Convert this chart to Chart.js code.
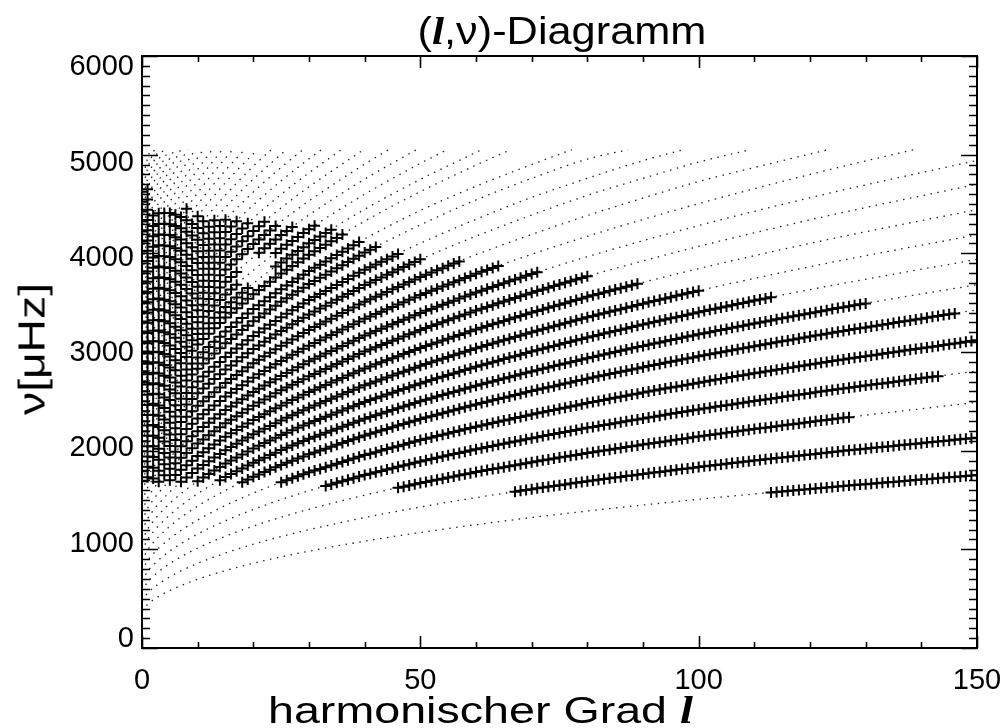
<!DOCTYPE html>
<html>
<head>
<meta charset="utf-8">
<script src="https://cdn.jsdelivr.net/npm/chart.js@4.4.0/dist/chart.umd.min.js"></script>
<style>
  html, body { margin: 0; padding: 0; background: #fff; }
  #wrap { position: relative; width: 1007px; height: 728px; overflow: hidden; }
  #c { position: absolute; left: 0; top: 0; }
  .t { position: absolute; font-family: "Liberation Sans", Arial, sans-serif; color: #000; white-space: nowrap; line-height: 1; }
  .l { font-family: "Liberation Serif", "Times New Roman", serif; font-style: italic; font-weight: bold; }
  #title { font-size: 38px; left: 0; width: 1124px; text-align: center; top: 12px; transform: scaleX(1.14); transform-origin: 562px 50%; }
  #xt { font-size: 37px; left: 268px; top: 692px; transform: scaleX(1.26); transform-origin: 0 50%; }
  #yt { font-size: 37px; left: 32px; top: 349px; transform: translate(-50%, -50%) rotate(-90deg) scaleX(1.25); }
</style>
</head>
<body>
<div id="wrap">
  <canvas id="c" width="1007" height="728"></canvas>
  <div class="t" id="title">(<span class="l">l</span>,ν)-Diagramm</div>
  <div class="t" id="xt">harmonischer Grad <span class="l">l</span></div>
  <div class="t" id="yt">ν[μHz]</div>
</div>
<script>
// (l,nu) diagram: dotted model ridges + observed modes (plus markers)
var X_MIN = 0, X_MAX = 150, X_MAJOR = 50, X_MINOR = 10;
var Y_MIN = 0, Y_MAX = 6000, Y_MAJOR = 1000, Y_MINOR = 100;
var Y_LABELS = [0, 1000, 2000, 3000, 4000, 5000, 6000];
// the printed y labels sit on a slightly squeezed scale (0 at 639px, 6000 at 67px)
var Y_LABEL_MIN = -94.5, Y_LABEL_MAX = 6120.7;

// model ridges as [l, nu] points, lowest ridge first
var RIDGES = [
  [[0,375],[1,443],[2,487],[3,523],[5,583],[7,633],[10,697],[15,785],[20,859],[25,924],[30,981],[40,1083],[50,1171],[60,1250],[70,1322],[80,1388],[90,1449],[100,1507],[110,1561],[125,1637],[150,1753]],
  [[0,476],[1,556],[2,608],[3,650],[5,722],[7,781],[10,858],[15,963],[20,1052],[25,1130],[30,1199],[40,1322],[50,1429],[60,1524],[70,1610],[80,1690],[90,1764],[100,1834],[110,1900],[125,1992],[150,2132]],
  [[0,577],[1,667],[2,726],[3,774],[5,856],[7,924],[10,1012],[15,1133],[20,1236],[25,1326],[30,1406],[40,1549],[50,1672],[60,1783],[70,1883],[80,1976],[90,2062],[100,2143],[110,2219],[125,2326],[150,2490]],
  [[0,679],[1,776],[2,840],[3,893],[5,983],[7,1058],[10,1155],[15,1290],[20,1404],[25,1504],[30,1594],[40,1753],[50,1891],[60,2014],[70,2127],[80,2231],[90,2327],[100,2418],[110,2503],[125,2623],[150,2807]],
  [[0,780],[1,885],[2,954],[3,1012],[5,1109],[7,1191],[10,1297],[15,1445],[20,1570],[25,1681],[30,1780],[40,1955],[50,2107],[60,2243],[70,2367],[80,2482],[90,2589],[100,2689],[110,2784],[125,2917],[150,3119]],
  [[0,881],[1,993],[2,1067],[3,1129],[5,1234],[7,1323],[10,1438],[15,1598],[20,1735],[25,1855],[30,1963],[40,2154],[50,2320],[60,2469],[70,2604],[80,2730],[90,2846],[100,2956],[110,3059],[125,3205],[150,3427]],
  [[0,982],[1,1098],[2,1175],[3,1240],[5,1350],[7,1443],[10,1564],[15,1734],[20,1878],[25,2006],[30,2120],[40,2323],[50,2500],[60,2659],[70,2803],[80,2937],[90,3062],[100,3179],[110,3289],[125,3445],[150,3682]],
  [[0,1083],[1,1203],[2,1283],[3,1351],[5,1466],[7,1564],[10,1691],[15,1870],[20,2023],[25,2158],[30,2279],[40,2494],[50,2682],[60,2851],[70,3004],[80,3147],[90,3279],[100,3403],[110,3521],[125,3686],[150,3939]],
  [[0,1185],[1,1309],[2,1392],[3,1462],[5,1582],[7,1684],[10,1818],[15,2005],[20,2166],[25,2307],[30,2435],[40,2662],[50,2860],[60,3038],[70,3200],[80,3351],[90,3490],[100,3622],[110,3746],[125,3921],[150,4188]],
  [[0,1286],[1,1414],[2,1500],[3,1574],[5,1699],[7,1806],[10,1945],[15,2142],[20,2310],[25,2459],[30,2594],[40,2833],[50,3041],[60,3229],[70,3400],[80,3559],[90,3706],[100,3845],[110,3976],[125,4161],[150,4443]],
  [[0,1387],[1,1519],[2,1609],[3,1685],[5,1816],[7,1927],[10,2073],[15,2279],[20,2456],[25,2612],[30,2753],[40,3004],[50,3223],[60,3421],[70,3601],[80,3768],[90,3923],[100,4070],[110,4208],[125,4403],[150,4700]],
  [[0,1488],[1,1624],[2,1717],[3,1796],[5,1930],[7,2046],[10,2197],[15,2411],[20,2595],[25,2758],[30,2905],[40,3167],[50,3396],[60,3603],[70,3791],[80,3966],[90,4128],[100,4281],[110,4426],[125,4630],[150,4941]],
  [[0,1589],[1,1730],[2,1826],[3,1907],[5,2047],[7,2167],[10,2325],[15,2548],[20,2740],[25,2910],[30,3064],[40,3337],[50,3577],[60,3793],[70,3990],[80,4173],[90,4343],[100,4504],[110,4655],[125,4869],[138.6,5050]],
  [[0,1691],[1,1836],[2,1935],[3,2020],[5,2165],[7,2290],[10,2454],[15,2686],[20,2886],[25,3063],[30,3224],[40,3509],[50,3760],[60,3986],[70,4191],[80,4383],[90,4560],[100,4728],[110,4870],[123.2,5050]],
  [[0,1792],[1,1942],[2,2044],[3,2132],[5,2282],[7,2411],[10,2581],[15,2822],[20,3030],[25,3214],[30,3381],[40,3678],[50,3939],[60,4174],[70,4388],[80,4588],[90,4760],[100,4925],[109.2,5050]],
  [[0,1893],[1,2046],[2,2151],[3,2240],[5,2394],[7,2527],[10,2701],[15,2949],[20,3163],[25,3353],[30,3526],[40,3833],[50,4102],[60,4345],[70,4567],[80,4760],[90,4940],[97.2,5050]],
  [[0,1994],[1,2152],[2,2260],[3,2353],[5,2513],[7,2650],[10,2831],[15,3089],[20,3311],[25,3509],[30,3688],[40,4008],[50,4288],[60,4541],[70,4760],[80,4955],[87.3,5050]],
  [[0,2095],[1,2255],[2,2364],[3,2458],[5,2620],[7,2760],[10,2945],[15,3208],[20,3435],[25,3636],[30,3820],[40,4147],[50,4434],[60,4680],[70,4900],[77.2,5050]],
  [[0,2197],[1,2362],[2,2476],[3,2573],[5,2741],[7,2886],[10,3077],[15,3350],[20,3586],[25,3796],[30,3986],[40,4326],[50,4625],[60,4894],[66.2,5050]],
  [[0,2298],[1,2463],[2,2577],[3,2674],[5,2843],[7,2989],[10,3182],[15,3457],[20,3696],[25,3908],[30,4101],[40,4446],[50,4749],[61.0,5050]],
  [[0,2399],[1,2567],[2,2683],[3,2783],[5,2955],[7,3105],[10,3302],[15,3584],[20,3829],[25,4047],[30,4245],[40,4599],[50,4911],[54.8,5050]],
  [[0,2500],[1,2671],[2,2789],[3,2891],[5,3067],[7,3220],[10,3422],[15,3711],[20,3962],[25,4185],[30,4389],[40,4752],[49.3,5050]],
  [[0,2601],[1,2775],[2,2896],[3,3000],[5,3179],[7,3335],[10,3542],[15,3837],[20,4094],[25,4323],[30,4531],[40,4904],[44.3,5050]],
  [[0,2703],[1,2880],[2,3003],[3,3109],[5,3292],[7,3451],[10,3662],[15,3964],[20,4227],[25,4461],[30,4674],[39.8,5050]],
  [[0,2804],[1,2984],[2,3109],[3,3217],[5,3404],[7,3566],[10,3781],[15,4090],[20,4358],[25,4598],[30,4816],[35.8,5050]],
  [[0,2905],[1,3088],[2,3215],[3,3325],[5,3515],[7,3681],[10,3901],[15,4216],[20,4490],[25,4735],[30,4958],[32.2,5050]],
  [[0,3006],[1,3192],[2,3322],[3,3433],[5,3627],[7,3796],[10,4020],[15,4341],[20,4621],[25,4871],[28.9,5050]],
  [[0,3107],[1,3296],[2,3428],[3,3541],[5,3738],[7,3910],[10,4138],[15,4466],[20,4752],[25.9,5050]],
  [[0,3209],[1,3401],[2,3535],[3,3650],[5,3851],[7,4026],[10,4258],[15,4592],[20,4883],[23.2,5050]],
  [[0,3310],[1,3505],[2,3641],[3,3758],[5,3962],[7,4140],[10,4377],[15,4717],[20.7,5050]],
  [[0,3411],[1,3609],[2,3747],[3,3866],[5,4073],[7,4255],[10,4495],[15,4842],[18.4,5050]],
  [[0,3512],[1,3713],[2,3853],[3,3974],[5,4185],[7,4369],[10,4614],[15,4966],[16.3,5050]],
  [[0,3613],[1,3817],[2,3959],[3,4082],[5,4296],[7,4483],[10,4732],[14.4,5050]],
  [[0,3715],[1,3922],[2,4066],[3,4190],[5,4408],[7,4598],[10,4851],[12.6,5050]],
  [[0,3816],[1,4026],[2,4172],[3,4298],[5,4519],[7,4712],[10,4969],[11.0,5050]],
  [[0,3917],[1,4129],[2,4278],[3,4406],[5,4630],[7,4826],[9.55,5050]],
  [[0,4018],[1,4233],[2,4383],[3,4514],[5,4741],[7,4940],[8.2,5050]],
  [[0,4119],[1,4337],[2,4489],[3,4622],[5,4852],[6.96,5050]],
  [[0,4221],[1,4442],[2,4596],[3,4730],[5,4964],[5.81,5050]],
  [[0,4322],[1,4546],[2,4702],[3,4838],[4.78,5050]],
  [[0,4423],[1,4650],[2,4808],[3,4946],[3.83,5050]],
  [[0,4524],[1,4753],[2,4914],[2.98,5050]],
  [[0,4625],[1,4857],[2.21,5050]],
  [[0,4727],[1,4962],[1.51,5050]]
];

// observed modes: first l of each ridge's run, then nu at l, l+1, ... (null = no mode)
var MODE_START = [113, 67, 46, 33, 25, 18, 14, 10, 7, 5, 3, 2, 1, 0, 0, 0, 0, 0, 0, 0, 0, 0, 0, 0, 0, 0, 0, 0, 0, 0, 0, 0, 0, 0, 0, 0, 0, 0, 0, 0, 0, 0, 0];
var MODE_NU = [
  [1576,1581,1586,1591,1596,1602,1607,1612,1617,1622,1627,1632,1637,1642,1646,1651,1656,1660,1665,1669,1674,1679,1683,1688,1693,1697,1702,1707,1711,1716,1720,1725,1730,1734,1739,1744,1748,1753],
  [1584,1593,1601,1610,1618,1626,1634,1642,1650,1658,1666,1674,1682,1690,1697,1705,1712,1720,1727,1734,1742,1749,1757,1764,1771,1778,1785,1792,1799,1806,1813,1820,1827,1834,1841,1847,1854,1860,1867,1874,1880,1887,1893,1900,1906,1912,1918,1925,1931,1937,1943,1949,1955,1961,1967,1974,1980,1986,1992,1998,2003,2009,2014,2020,2026,2031,2037,2042,2048,2054,2059,2065,2070,2076,2082,2087,2093,2098,2104,2110,2115,2121,2126,2132],
  [1623,1635,1647,1660,1672,1683,1694,1705,1716,1728,1739,1750,1761,1772,1783,1793,1803,1813,1823,1833,1843,1853,1863,1873,1883,1892,1902,1911,1920,1930,1939,1948,1957,1967,1976,1985,1993,2002,2010,2019,2028,2036,2045,2053,2062,2070,2078,2086,2094,2103,2111,2119,2127,2135,2143,2151,2158,2166,2173,2181,2189,2196,2204,2211,2219,2226,2233,2240,2248,2255,2262,2269,2276,2283,2290,2297,2305,2312,2319,2326,2333,2339],
  [1642,1658,1674,1689,1705,1721,1737,1753,1767,1781,1794,1808,1822,1836,1850,1863,1877,1891,1903,1916,1928,1940,1953,1965,1977,1989,2002,2014,2025,2037,2048,2059,2071,2082,2093,2104,2116,2127,2137,2148,2158,2169,2179,2189,2200,2210,2221,2231,2241,2250,2260,2269,2279,2289,2298,2308,2317,2327,2336,2345,2354,2363,2373,2382,2391,2400,2409,2418,2427,2435,2444,2452,2461,2469,2478,2486,2495,2503,2511,2519,2527,2535,2543,2551,2559,2567,2575,2583,2591,2599,2607,2615,2623,2630,2638,2645,2652,2660,2667,2675,2682,2689,2697,2704,2711,2719,2726,2733,2741,2748,2755],
  [1681,1701,1720,1740,1760,1780,1798,1815,1833,1850,1868,1885,1903,1920,1938,1955,1970,1985,2001,2016,2031,2046,2061,2077,2092,2107,2121,2134,2148,2161,2175,2189,2202,2216,2229,2243,2255,2268,2280,2293,2305,2317,2330,2342,2355,2367,2379,2390,2402,2413,2425,2436,2448,2459,2471,2482,2493,2503,2514,2525,2536,2546,2557,2568,2578,2589,2599,2609,2619,2629,2639,2649,2659,2669,2679,2689,2699,2708,2718,2727,2737,2746,2756,2765,2775,2784,2793,2802,2811,2819,2828,2837,2846,2855,2864,2873,2882,2890,2899,2908,2917,2925,2933,2941,2949,2957,2965,2973,2982,2990,2998,3006,3014,3022,3030,3038,3046,3054,3062,3071,3079,3087,3095,3103,3111,3119],
  [1680,1708,1735,1759,1783,1807,1831,1855,1877,1898,1920,1941,1963,1982,2001,2020,2039,2059,2078,2097,2116,2135,2154,2171,2187,2204,2220,2237,2254,2270,2287,2303,2320,2335,2350,2365,2380,2395,2409,2424,2439,2454,2469,2483,2496,2510,2523,2537,2550,2564,2577,2591,2604,2617,2629,2642,2654,2667,2680,2692,2705,2717,2730,2742,2753,2765,2776,2788,2800,2811,2823,2834,2846,2857,2868,2879,2890,2901,2912,2923,2934,2945,2956,2966,2977,2987,2997,3008,3018,3028,3038,3049,3059,3069,3078,3088,3098,3108,3117,3127,3137,3147,3156,3166,3176,3186,3195,3205,3214,3223,3232,3241,3249,3258,3267,3276,3285,3294,3303,3312,3320,3329,3338,3347,3356,3365,3374,3383,3391],
  [1700,1734,1763,1792,1820,1849,1878,1904,1929,1955,1980,2006,2029,2052,2074,2097,2120,2140,2161,2181,2201,2222,2242,2262,2282,2303,2323,2341,2358,2376,2394,2412,2429,2447,2465,2482,2500,2516,2532,2548,2564,2580,2595,2611,2627,2643,2659,2673,2688,2702,2717,2731,2745,2760,2774,2789,2803,2816,2830,2843,2857,2870,2883,2897,2910,2924,2937,2950,2962,2975,2987,3000,3012,3025,3037,3050,3062,3074,3085,3097,3109,3121,3132,3144,3156,3167,3179,3190,3201,3212,3223,3234,3245,3256,3267,3278,3289,3299,3310,3320,3331,3341,3351,3362,3372,3383,3393,3403,3414,3424,3435,3445,3454,3464,3473,3483,3492],
  [1691,1727,1763,1798,1834,1870,1901,1931,1962,1992,2023,2050,2077,2104,2131,2158,2182,2206,2231,2255,2279,2301,2322,2344,2365,2387,2408,2430,2451,2473,2494,2513,2532,2550,2569,2588,2607,2626,2644,2663,2682,2699,2716,2733,2750,2767,2783,2800,2817,2834,2851,2866,2882,2897,2912,2928,2943,2958,2973,2989,3004,3018,3033,3047,3061,3076,3090,3104,3118,3133,3147,3160,3173,3187,3200,3213,3226,3239,3253,3266,3279,3291,3304,3316,3329,3341,3353,3366,3378,3391,3403,3415,3427,3438,3450,3462,3474,3486,3497,3509,3521,3532,3543,3554],
  [1684,1729,1773,1818,1855,1892,1930,1967,2005,2037,2069,2102,2134,2166,2194,2222,2251,2279,2307,2333,2358,2384,2409,2435,2458,2480,2503,2526,2549,2571,2594,2617,2639,2662,2682,2702,2721,2741,2761,2781,2801,2820,2840,2860,2878,2896,2913,2931,2949,2967,2985,3002,3020,3038,3054,3070,3087,3103,3119,3135,3151,3168,3184,3200,3215,3230,3245,3260,3276,3291,3306,3321,3336,3351,3365,3379,3393,3407,3421,3434,3448,3462,3476,3490,3503,3516,3530,3543,3556,3569,3582,3596,3609,3622],
  [1699,1753,1806,1852,1899,1945,1984,2024,2063,2103,2142,2176,2209,2243,2276,2310,2340,2370,2399,2429,2459,2486,2513,2540,2567,2594,2618,2642,2666,2690,2714,2737,2761,2785,2809,2833,2854,2875,2895,2916,2937,2958,2979,2999,3020,3041,3060,3079,3097,3116,3135,3154,3173,3191,3210,3229,3246,3263,3280,3297,3315,3332,3349,3366,3383,3400,3416,3432,3448,3464,3480,3495,3511,3527,3543,3559,3574,3588,3603,3618,3633,3647,3662,3677,3691],
  [1685,1751,1816,1872,1927,1976,2024,2073,2114,2155,2197,2238,2279,2314,2350,2385,2421,2456,2487,2518,2550,2581,2612,2640,2669,2697,2725,2753,2778,2803,2828,2853,2879,2904,2929,2954,2979,3004,3026,3048,3070,3092,3114,3135,3157,3179,3201,3223,3243,3263,3282,3302,3322,3342,3362,3381,3401,3421,3439,3457,3475,3493,3511,3529,3547,3565,3583,3601,3618,3634,3651,3668,3685,3701,3718,3735,3751,3768],
  [1717,1796,1863,1930,1988,2046,2096,2147,2197,2240,2283,2325,2368,2411,2448,2485,2521,2558,2595,2628,2660,2693,2725,2758,2787,2816,2846,2875,2905,2931,2957,2984,3010,3036,3062,3088,3115,3141,3167,3190,3213,3236,3259,3282,3304,3327,3350,3373,3396,3417,3437,3458,3479,3500,3520,3541,3562,3582,3603,3622,3641,3659,3678,3697,3716,3735,3753,3772,3791,3809],
  [1730,1826,1907,1977,2047,2107,2167,2220,2272,2325,2370,2414,2459,2503,2548,2586,2625,2663,2702,2740,2774,2808,2842,2876,2910,2941,2972,3002,3033,3064,3091,3119,3146,3173,3201,3228,3255,3282,3310,3337,3361,3385,3409,3433,3457,3481,3505,3529,3553,3577,3599,3620,3642,3663,3685,3707,3728,3750,3771,3793,3813,3832,3852,3872],
  [1691,1836,1935,2020,2093,2165,2228,2290,2345,2399,2454,2500,2547,2593,2640,2686,2726,2766,2806,2846,2886,2921,2957,2992,3028,3063,3095,3127,3160,3192,3224,3253,3281,3310,3338,3367,3395,3424,3452,3481,3509,3534,3559,3584,3609,3635,3660,3685,3710,3735,3760,3783,3805,3828,3850,3873,3896,3918],
  [1792,1942,2044,2132,2207,2282,2347,2411,2468,2524,2581,2629,2677,2726,2774,2822,2864,2905,2947,2988,3030,3067,3104,3140,3177,3214,3247,3281,3314,3348,3381,3411,3440,3470,3500,3530,3559,3589,3619,3648,3678,3704,3730,3756,3782,3809,3835,3861,3887,3913,3939],
  [1893,2046,2151,2240,2317,2394,2461,2527,2585,2643,2701,2751,2800,2850,2899,2949,2992,3035,3077,3120,3163,3201,3239,3277,3315,3353,3388,3422,3457,3491,3526,3557,3587,3618,3648,3680,3710,3741,3772,3802,3833,3860,3887,3914,3941,3968,3994],
  [1994,2152,2260,2353,2433,2513,2582,2650,2710,2771,2831,2883,2934,2986,3037,3089,3133,3178,3222,3267,3311,3351,3390,3430,3469,3509,3545,3580,3616,3652,3688,3720,3752,3784,3816,3848,3880,3912,3944,3976,4008,4036,4064],
  [2095,2255,2364,2458,2539,2620,2690,2760,2822,2883,2945,2998,3050,3103,3155,3208,3253,3299,3344,3390,3435,3475,3515,3556,3596,3636,3673,3710,3746,3783,3820,3853,3885,3918,3951,3984,4016,4049,4082,4114],
  [2197,2362,2476,2573,2657,2741,2814,2886,2950,3013,3077,3132,3186,3241,3295,3350,3397,3444,3492,3539,3586,3628,3670,3712,3754,3796,3834,3872,3910,3948,3986,4020,4054,4088,4122,4156,4190],
  [2298,2463,2577,2674,2759,2843,2916,2989,3053,3118,3182,3237,3292,3347,3402,3457,3505,3553,3600,3648,null,null,null,null,3866,3908,3947,3985,4024,4062,4101,4136,4170,4205,4239],
  [2399,2567,2683,2783,2869,2955,3030,3105,3171,3236,3302,3358,3415,3471,3528,3584,3633,3682,null,null,null,null,null,null,4003,4047,4087,4126,4166,4205,4245,4280],
  [2500,2671,2789,2891,2979,3067,3144,3220,3287,3355,3422,3480,3538,3595,3653,3711,3761,3811,null,null,null,4007,4051,4096,4140,4185,4226,4267],
  [2601,2775,2896,3000,3090,3179,3257,3335,3404,3473,3542,3601,3660,3719,3778,3837,3888,3940,3991,4043,4094,4140,4186,4231,4277],
  [2703,2880,3003,3109,3201,3292,3372,3451,3521,3592,3662,3722,3783,3843,3904,3964,4017,4069,4122,4174,4227,4274,4321],
  [2804,2984,3109,3217,3311,3404,3485,3566,3638,3709,3781,3843,3905,3966,4028,4090,4144,4197,4251,4304],
  [2905,3088,3215,3325,3420,3515,3598,3681,3754,3828,3901,3964,4027,4090,4153,4216,4271,4326],
  [3006,3192,3322,3433,3530,3627,3712,3796,3871,3945,4020,4084,4148,4213,4277,4341],
  [3107,3296,3428,3541,3640,3738,3824,3910,3986,4062,4138,4204,4269,4335],
  [3209,3401,3535,3650,3751,3851,3939,4026,4103,4181,4258,4325],
  [3310,3505,3641,3758,3860,3962,4051,4140,4219,4298,4377],
  [3411,3609,3747,3866,3970,4073,4164,4255,4335],
  [3512,3713,3853,3974,4080,4185,4277,4369,4451],
  [3613,3817,3959,4082,4189,4296,4390],
  [3715,3922,4066,4190,4299,4408],
  [3816,4026,4172,4298,4409],
  [3917,4129,4278,4406],
  [4018,4233,4383],
  [4119,4337],
  [4221,4442],
  [4322,4546],
  [4423,4650],
  [4524],
  [4625]
];

(function() {
  var FONT = '"Liberation Sans", Arial, sans-serif';

  var modePoints = [];
  MODE_NU.forEach(function(run, k) {
    run.forEach(function(v, i) {
      if (v !== null) modePoints.push({ x: MODE_START[k] + i, y: v });
    });
  });

  var datasets = [{
    data: modePoints,
    showLine: false,
    pointStyle: 'cross',
    pointRadius: 5.5,
    pointBorderWidth: 2,
    pointBorderColor: '#000',
    pointBackgroundColor: '#000',
    order: 0
  }];

  RIDGES.forEach(function(r) {
    datasets.push({
      data: r.map(function(p) { return { x: p[0], y: p[1] }; }),
      showLine: true,
      borderColor: '#222',
      borderWidth: 1.3,
      borderDash: [1.5, 5.5],
      pointRadius: 0,
      cubicInterpolationMode: 'monotone',
      fill: false,
      order: 1
    });
  });

  var frame = {
    id: 'frame',
    afterDraw: function(chart) {
      var ctx = chart.ctx, a = chart.chartArea, x = chart.scales.x, y = chart.scales.y;
      ctx.save();
      ctx.strokeStyle = '#000';
      ctx.lineWidth = 2;
      ctx.strokeRect(a.left, a.top, a.right - a.left, a.bottom - a.top);
      ctx.lineWidth = 1.6;
      ctx.beginPath();
      for (var v = X_MIN; v <= X_MAX; v += X_MINOR) {
        var px = Math.round(x.getPixelForValue(v)) + 0.5;
        var len = v % X_MAJOR === 0 ? 12 : 6;
        ctx.moveTo(px, a.bottom); ctx.lineTo(px, a.bottom - len);
        ctx.moveTo(px, a.top); ctx.lineTo(px, a.top + len);
      }
      for (var w = Y_MIN; w <= Y_MAX; w += Y_MINOR) {
        var py = Math.round(y.getPixelForValue(w)) + 0.5;
        var ln = w % Y_MAJOR === 0 ? 16 : 8;
        ctx.moveTo(a.left, py); ctx.lineTo(a.left + ln, py);
        ctx.moveTo(a.right, py); ctx.lineTo(a.right - ln, py);
      }
      ctx.stroke();
      ctx.restore();
    }
  };

  new Chart(document.getElementById('c'), {
    type: 'scatter',
    data: { datasets: datasets },
    options: {
      responsive: false,
      animation: false,
      layout: { padding: { top: 56, right: 30, left: 0, bottom: 0 } },
      plugins: { legend: { display: false }, tooltip: { enabled: false } },
      scales: {
        x: {
          type: 'linear', min: X_MIN, max: X_MAX,
          afterFit: function(s) { s.height = 80; s.paddingLeft = 0; s.paddingRight = 0; },
          grid: { display: false, drawTicks: false },
          border: { display: false },
          ticks: { stepSize: X_MAJOR, color: '#000', padding: 16, maxRotation: 0,
                   font: { family: FONT, size: 29 }, callback: function(v) { return String(v); } }
        },
        y: {
          type: 'linear', min: Y_MIN, max: Y_MAX, display: false
        },
        yl: {
          type: 'linear', position: 'left', min: Y_LABEL_MIN, max: Y_LABEL_MAX,
          afterBuildTicks: function(s) { s.ticks = Y_LABELS.map(function(v) { return { value: v }; }); },
          afterFit: function(s) { s.width = 142; s.paddingTop = 0; s.paddingBottom = 0; },
          grid: { display: false, drawTicks: false },
          border: { display: false },
          ticks: { color: '#000', padding: 8, autoSkip: false,
                   font: { family: FONT, size: 29 }, callback: function(v) { return String(v); } }
        }
      }
    },
    plugins: [frame]
  });
})();
</script>
</body>
</html>
